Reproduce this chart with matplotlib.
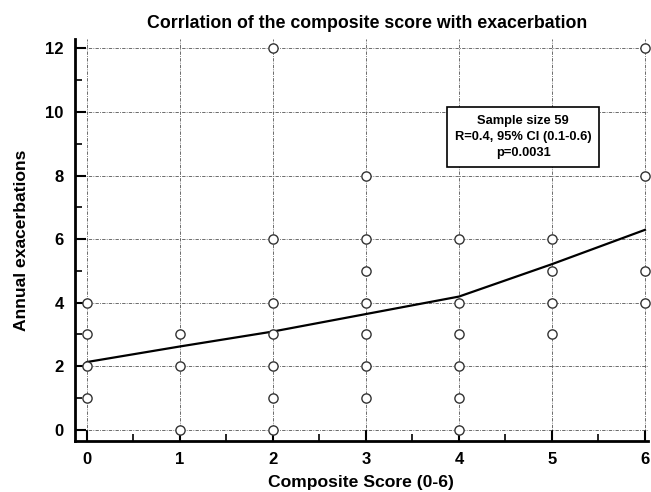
import numpy as np
import matplotlib
matplotlib.use('Agg')
import matplotlib.pyplot as plt
from matplotlib.ticker import MultipleLocator

plt.rcParams['font.family'] = ['Liberation Sans', 'DejaVu Sans']

# Observed points (composite score, annual exacerbations)
score = [0, 0, 0, 0,
         1, 1, 1,
         2, 2, 2, 2, 2, 2, 2,
         3, 3, 3, 3, 3, 3, 3,
         4, 4, 4, 4, 4, 4,
         5, 5, 5, 5,
         6, 6, 6, 6]
exacerb = [1, 2, 3, 4,
           0, 2, 3,
           0, 1, 2, 3, 4, 6, 12,
           1, 2, 3, 4, 5, 6, 8,
           0, 1, 2, 3, 4, 6,
           3, 4, 5, 6,
           4, 5, 8, 12]

# Fitted curve
fit_x = [0, 1, 2, 3, 4, 5, 6]
fit_y = [2.13, 2.62, 3.09, 3.64, 4.19, 5.21, 6.29]

stats_text = "Sample size 59\nR=0.4, 95% CI (0.1-0.6)\np=0.0031"

fig = plt.figure(figsize=(6.51, 4.92), dpi=100)
ax = fig.add_axes([0.115, 0.104, 0.88, 0.817])

ax.plot(fit_x, fit_y, color='black', lw=1.6, zorder=3)
ax.scatter(score, exacerb, s=44, facecolor='white', edgecolor='#333333',
           linewidths=1.0, zorder=4, clip_on=False)

ax.set_xlim(-0.13, 6.03)
ax.set_ylim(-0.35, 12.3)
ax.xaxis.set_major_locator(MultipleLocator(1))
ax.xaxis.set_minor_locator(MultipleLocator(0.5))
ax.yaxis.set_major_locator(MultipleLocator(2))
ax.yaxis.set_minor_locator(MultipleLocator(1))

ax.grid(True, which='major', color='#555555', linestyle=(0, (4, 1.5, 1, 1.5)), lw=0.6)

for s in ['top', 'right']:
    ax.spines[s].set_visible(False)
for s in ['left', 'bottom']:
    ax.spines[s].set_linewidth(2)

ax.tick_params(which='major', direction='in', length=8, width=1.5, labelsize=12, pad=8)
ax.tick_params(which='minor', direction='in', length=5, width=1.2)
for lab in ax.get_xticklabels() + ax.get_yticklabels():
    lab.set_fontweight('bold')

ax.set_xlabel('Composite Score (0-6)', fontsize=12.6, fontweight='bold', labelpad=6)
ax.set_ylabel('Annual exacerbations', fontsize=12.6, fontweight='bold', labelpad=12)
ax.set_title('Corrlation of the composite score with exacerbation', fontsize=12.8,
             fontweight='bold', pad=8, x=0.51)

ax.text(4.69, 9.21, stats_text, ha='center', va='center', fontsize=9.3,
        fontweight='bold', linespacing=1.45, zorder=5,
        bbox=dict(boxstyle='square,pad=0.6', facecolor='white', edgecolor='black', lw=1.2))

fig.savefig('out.png', dpi=100)
